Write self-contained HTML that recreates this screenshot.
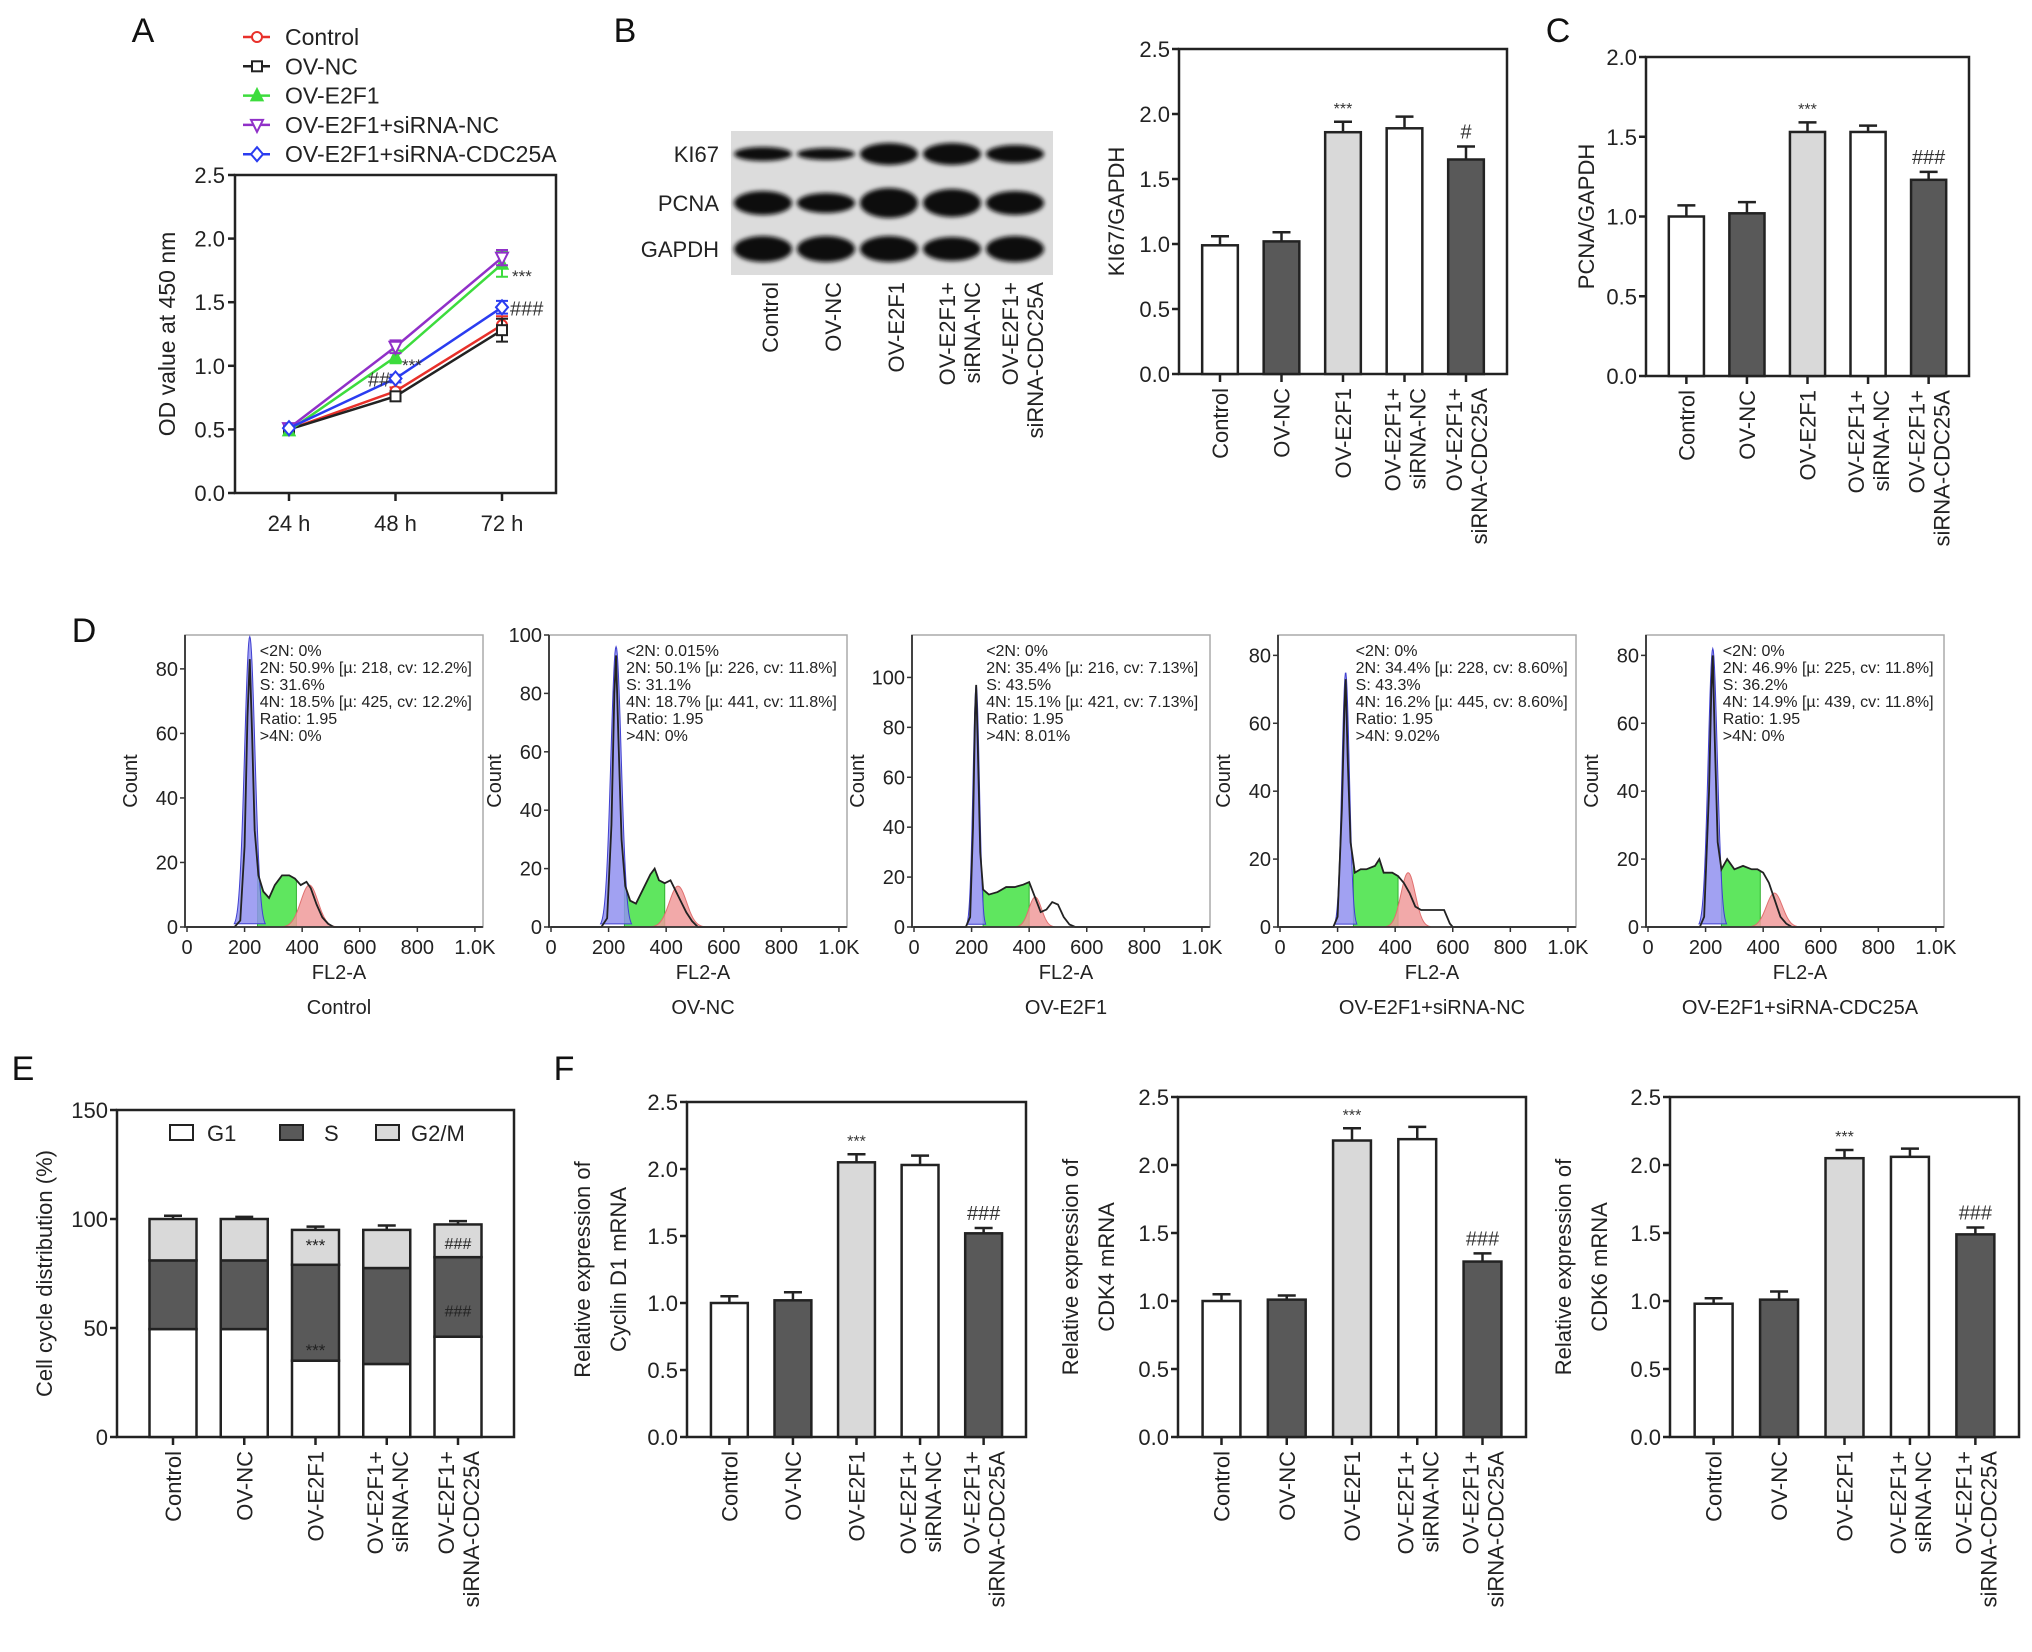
<!DOCTYPE html>
<html><head><meta charset="utf-8"><title>E2F1 / CDC25A figure</title>
<style>
html,body{margin:0;padding:0;background:#fff;}
svg{display:block;font-family:"Liberation Sans",Arial,sans-serif;}
</style></head>
<body>
<svg id="fig" xmlns="http://www.w3.org/2000/svg" width="2032" height="1652" viewBox="0 0 2032 1652">
<defs><filter id="blur" x="-20%" y="-50%" width="140%" height="200%"><feGaussianBlur stdDeviation="2.2"/></filter></defs>
<rect x="0" y="0" width="2032" height="1652" fill="#fff"/>
</svg>
<script>
// ---------- data ----------
const timeLabels = ['24 h','48 h','72 h'];
const seriesNames = ['Control','OV-NC','OV-E2F1','OV-E2F1+siRNA-NC','OV-E2F1+siRNA-CDC25A'];
const odControl = [0.50,0.80,1.32];
const odNC = [0.50,0.76,1.28];
const odE2F1 = [0.49,1.07,1.80];
const odSiNC = [0.51,1.15,1.85];
const odCDC = [0.51,0.90,1.46];
const odErr72 = [0.07,0.09,0.10,0.06,0.05];
const odErr48 = [0.03,0.03,0.05,0.05,0.03];
const aTicks = [0,0.5,1.0,1.5,2.0,2.5];

const cats = [["Control"],["OV-NC"],["OV-E2F1"],["OV-E2F1+","siRNA-NC"],["OV-E2F1+","siRNA-CDC25A"]];
const ki67Vals = [0.99,1.02,1.86,1.89,1.65];
const ki67Err = [0.07,0.07,0.08,0.09,0.10];
const ki67Marks = ['','','***','','#'];
const pcnaVals = [1.00,1.02,1.53,1.53,1.23];
const pcnaErr = [0.07,0.07,0.06,0.04,0.05];
const pcnaMarks = ['','','***','','###'];
const ccnd1Vals = [1.00,1.02,2.05,2.03,1.52];
const ccnd1Err = [0.05,0.06,0.06,0.07,0.04];
const cdk4Vals = [1.00,1.01,2.18,2.19,1.29];
const cdk4Err = [0.05,0.03,0.09,0.09,0.06];
const cdk6Vals = [0.98,1.01,2.05,2.06,1.49];
const cdk6Err = [0.04,0.06,0.06,0.06,0.05];
const fMarks = ['','','***','','###'];
const ticks25 = [0,0.5,1.0,1.5,2.0,2.5];
const ticks20 = [0,0.5,1.0,1.5,2.0];

const g1Vals = [49.5,49.5,35,33.5,46];
const sVals = [31.5,31.5,44,44,36.5];
const g2mVals = [19,19,16,17.5,15];
const g1Err = [2.5,1.5,1,2.5,2.5];
const sErr = [2.5,1.5,1.5,1.5,1];
const g2Err = [1.5,1,1.5,2,1.5];
const eTicks = [0,50,100,150];

const blotRows = ['KI67','PCNA','GAPDH'];
const ki67Band = [7,6,11,11,9];
const pcnaBand = [12,10,15,14,12];
const gapdhBand = [13,13,13,12,13];

const dTitles = ['Control','OV-NC','OV-E2F1','OV-E2F1+siRNA-NC','OV-E2F1+siRNA-CDC25A'];
const dYmax = [90.5,100,117,86,86];
const dYTicks = [[0,20,40,60,80],[0,20,40,60,80,100],[0,20,40,60,80,100],[0,20,40,60,80],[0,20,40,60,80]];
const dXTicks = [0,200,400,600,800,1000];
const dXLabels = ['0','200','400','600','800','1.0K'];
const dStats = [
 ['<2N: 0%','2N: 50.9% [µ: 218, cv: 12.2%]','S: 31.6%','4N: 18.5% [µ: 425, cv: 12.2%]','Ratio: 1.95','>4N: 0%'],
 ['<2N: 0.015%','2N: 50.1% [µ: 226, cv: 11.8%]','S: 31.1%','4N: 18.7% [µ: 441, cv: 11.8%]','Ratio: 1.95','>4N: 0%'],
 ['<2N: 0%','2N: 35.4% [µ: 216, cv: 7.13%]','S: 43.5%','4N: 15.1% [µ: 421, cv: 7.13%]','Ratio: 1.95','>4N: 8.01%'],
 ['<2N: 0%','2N: 34.4% [µ: 228, cv: 8.60%]','S: 43.3%','4N: 16.2% [µ: 445, cv: 8.60%]','Ratio: 1.95','>4N: 9.02%'],
 ['<2N: 0%','2N: 46.9% [µ: 225, cv: 11.8%]','S: 36.2%','4N: 14.9% [µ: 439, cv: 11.8%]','Ratio: 1.95','>4N: 0%']];
const hist1 = [[0,0],[165,0],[185,2],[200,25],[210,65],[218,83],[226,60],[235,30],[248,16],[265,11],[285,9],[305,13],[330,16],[355,16],[375,15],[395,13],[415,14],[430,12],[450,7],[470,3],[490,1],[510,0],[1024,0]];
const hist2 = [[0,0],[175,0],[195,3],[210,35],[220,80],[226,93],[234,65],[245,30],[258,14],[275,9],[295,8],[320,13],[345,18],[360,20],[375,16],[395,15],[415,16],[430,13],[450,9],[470,5],[490,2],[510,0],[1024,0]];
const hist3 = [[0,0],[180,0],[195,4],[205,40],[212,85],[216,97],[222,70],[230,30],[240,15],[260,13],[290,14],[320,16],[350,16],[380,17],[400,18],[420,12],[440,6],[460,7],[480,10],[500,9],[520,4],[540,1],[560,0],[1024,0]];
const hist4 = [[0,0],[185,0],[200,3],[215,35],[224,65],[228,73],[235,50],[245,25],[260,16],[280,17],[300,17],[330,18],[345,20],[360,16],[390,16],[410,15],[430,13],[450,10],[470,6],[490,5],[520,5],[550,5],[570,5],[590,1],[600,0],[1024,0]];
const hist5 = [[0,0],[180,0],[195,3],[212,40],[220,70],[225,80],[232,55],[242,25],[255,17],[275,20],[300,17],[330,18],[360,17],[380,17],[400,16],[420,13],[440,8],[460,3],[480,1],[500,0],[1024,0]];
const dHists = [hist1,hist2,hist3,hist4,hist5];
const g1Mu = [218,226,216,228,225];
const g1Peak = [90,96,97,75,82];
const g1Sd = [18,18,11,13,16];
const g2Mu = [425,441,421,445,439];
const g2Peak = [13,14,12,16,10];
const g2Sd = [30,30,22,25,28];
const sRange = [[245,380],[255,395],[240,400],[255,410],[255,390]];

// ---------- helpers ----------
const NS='http://www.w3.org/2000/svg';
const svg=document.getElementById('fig');
function mk(tag,attrs,parent){const e=document.createElementNS(NS,tag);for(const k in attrs)e.setAttribute(k,attrs[k]);(parent||svg).appendChild(e);return e;}
function tx(str,attrs,parent){const e=mk('text',attrs,parent);e.textContent=str;return e;}
function grp(name){const g=mk('g',{});return g;}

// panel letters
[['A',143,42],['B',625,42],['C',1558,42],['D',84,642],['E',23,1080],['F',564,1080]].forEach(p=>{
  const t=tx(p[0],{x:p[1],y:p[2],'font-size':34,'text-anchor':'middle',fill:'#111'});
  
  
});

// ---------- Panel A ----------
(function(){
  const g=grp('panel-a-line-chart');
  const L=235,R=556,T=175,B=493;
  const y=v=>B-v/2.5*(B-T);
  const x=i=>289+i*106.5;
  const fr=mk('rect',{x:L,y:T,width:R-L,height:B-T,fill:'none',stroke:'#222','stroke-width':2.5},g);
  
  
  aTicks.forEach(v=>{
    const tk=mk('line',{x1:L-7,x2:L,y1:y(v),y2:y(v),stroke:'#222','stroke-width':2.5},g);
    
    
    const t=tx(v.toFixed(1),{x:L-10,y:y(v)+8,'font-size':22,'text-anchor':'end',fill:'#222'},g);
    
    
  });
  timeLabels.forEach((s,i)=>{
    const tk=mk('line',{x1:x(i),x2:x(i),y1:B,y2:B+8,stroke:'#222','stroke-width':2.5},g);
    
    
    const t=tx(s,{x:x(i),y:B+38,'font-size':22,'text-anchor':'middle',fill:'#222'},g);
    
    
  });
  const yt=tx('OD value at 450 nm',{x:0,y:0,'font-size':23,'text-anchor':'middle',fill:'#222',transform:'translate(175,334) rotate(-90)'},g);
  
  
  const series=[odControl,odNC,odE2F1,odSiNC,odCDC];
  const cols=['#e8302a','#222222','#3ddc3d','#9030c8','#2a3cf0'];
  const shapes=['circle','square','tri','itri','diamond'];
  function marker(shape,cx,cy,col,par){
    let e;
    if(shape==='circle') e=mk('circle',{cx:cx,cy:cy,r:5,fill:'#fff',stroke:col,'stroke-width':2},par);
    else if(shape==='square') e=mk('rect',{x:cx-5,y:cy-5,width:10,height:10,fill:'#fff',stroke:col,'stroke-width':2},par);
    else if(shape==='tri') e=mk('polygon',{points:`${cx},${cy-7} ${cx-6},${cy+5} ${cx+6},${cy+5}`,fill:col,stroke:col,'stroke-width':1.5},par);
    else if(shape==='itri') e=mk('polygon',{points:`${cx},${cy+7} ${cx-6},${cy-5} ${cx+6},${cy-5}`,fill:'#fff',stroke:col,'stroke-width':2},par);
    else e=mk('polygon',{points:`${cx},${cy-7} ${cx+6},${cy} ${cx},${cy+7} ${cx-6},${cy}`,fill:'#fff',stroke:col,'stroke-width':2},par);
    return e;
  }
  series.forEach((s,k)=>{
    const sg=mk('g',{},g);
    
    
    const ln=mk('polyline',{points:s.map((v,i)=>x(i)+','+y(v)).join(' '),fill:'none',stroke:cols[k],'stroke-width':2.5},sg);
    
    
    [[1,odErr48[k]],[2,odErr72[k]]].forEach(([i,e])=>{
      const eb=mk('path',{d:`M${x(i)},${y(s[i]-e)}V${y(s[i]+e)}M${x(i)-6},${y(s[i]-e)}h12M${x(i)-6},${y(s[i]+e)}h12`,stroke:cols[k],'stroke-width':2,fill:'none'},sg);
      
      
    });
    s.forEach((v,i)=>{
      const m=marker(shapes[k],x(i),y(v),cols[k],sg);
      
      
    });
    const ly=37+k*29.3;
    const ll=mk('line',{x1:243,x2:270,y1:ly,y2:ly,stroke:cols[k],'stroke-width':2.5},g);
    
    
    const lm=marker(shapes[k],257,ly,cols[k],g);
    
    
    const lt=tx(seriesNames[k],{x:285,y:ly+8,'font-size':23,fill:'#222'},g);
    
    
  });
  [['***',512,y(1.70)+5],['###',510,y(1.46)+8],['***',402,y(1.0)+5],['##',368,y(0.9)+8]].forEach(a=>{
    const t=tx(a[0],{x:a[1],y:a[2],'font-size':a[0][0]==='*'?17:20,fill:'#333'},g);
    
    
  });
})();

// ---------- Western blot ----------
(function(){
  const g=grp('western-blot');
  const bg=mk('rect',{x:731,y:131,width:322,height:144,fill:'#dcdcdc'},g);
  
  
  const rowsY=[154,203,249];
  const bands=[ki67Band,pcnaBand,gapdhBand];
  blotRows.forEach((r,ri)=>{
    const t=tx(r,{x:719,y:rowsY[ri]+8,'font-size':22,'text-anchor':'end',fill:'#222'},g);
    
    
    bands[ri].forEach((h,i)=>{
      const cx=763+i*63;
      const b=mk('ellipse',{cx:cx,cy:rowsY[ri],rx:29,ry:h,fill:'#111',filter:'url(#blur)'},g);
      
      
    });
  });
  cats.forEach((c,i)=>{
    const cx=770+i*63;
    c.forEach((line,j)=>{
      const bx=cx+(c.length===1?8:(j===0?-4:21));
      const t=tx(line,{x:0,y:0,'font-size':22,'text-anchor':'end',fill:'#222',transform:`translate(${bx},282) rotate(-90)`},g);
      
      
    });
  });
})();

// ---------- generic bar chart ----------
function barChart(name,L,R,T,B,ymax,ticks,vals,errs,marks,titleLines,titleX,fills){
  const g=grp(name);
  const y=v=>B-v/ymax*(B-T);
  const pad=(R-L)*0.125, step=(R-L-2*pad)/4;
  const x=i=>L+pad+i*step;
  const bw=step*0.58;
  const fr=mk('rect',{x:L,y:T,width:R-L,height:B-T,fill:'none',stroke:'#222','stroke-width':2.5},g);
  
  
  ticks.forEach(v=>{
    const tk=mk('line',{x1:L-7,x2:L,y1:y(v),y2:y(v),stroke:'#222','stroke-width':2.5},g);
    
    
    const t=tx(v.toFixed(1),{x:L-9,y:y(v)+8,'font-size':22,'text-anchor':'end',fill:'#222'},g);
    
    
  });
  vals.forEach((v,i)=>{
    const e=errs[i];
    const eb=mk('path',{d:`M${x(i)},${y(v)}V${y(v+e)}M${x(i)-9},${y(v+e)}h18`,stroke:'#222','stroke-width':2.5,fill:'none'},g);
    
    
    const r=mk('rect',{x:x(i)-bw/2,y:y(v),width:bw,height:B-y(v),fill:fills[i],stroke:'#222','stroke-width':2.5},g);
    
    
    const tk=mk('line',{x1:x(i),x2:x(i),y1:B,y2:B+8,stroke:'#222','stroke-width':2.5},g);
    
    
    cats[i].forEach((line,j)=>{
      const bx=x(i)+(cats[i].length===1?8:(j===0?-4:21));
      const t=tx(line,{x:0,y:0,'font-size':22,'text-anchor':'end',fill:'#222',transform:`translate(${bx},${B+14}) rotate(-90)`},g);
      
      
    });
    if(marks[i]){
      const t=tx(marks[i],{x:x(i),y:y(v+e)-8,'font-size':marks[i][0]==='*'?16:20,'text-anchor':'middle',fill:'#333'},g);
      
      
    }
  });
  const cy=(T+B)/2;
  titleLines.forEach((line,j)=>{
    const t=tx(line,{x:0,y:0,'font-size':22,'text-anchor':'middle',fill:'#222',transform:`translate(${titleX+j*36},${cy}) rotate(-90)`},g);
    
    
  });
}
const fillsMain=['#ffffff','#595959','#d9d9d9','#ffffff','#595959'];
barChart('panel-b-ki67-chart',1179,1507,49,374,2.5,ticks25,ki67Vals,ki67Err,ki67Marks,['KI67/GAPDH'],1124,fillsMain);
barChart('panel-c-pcna-chart',1646,1969,57,376,2.0,ticks20,pcnaVals,pcnaErr,pcnaMarks,['PCNA/GAPDH'],1594,fillsMain);
barChart('panel-f-cyclin-d1-chart',687,1026,1102,1437,2.5,ticks25,ccnd1Vals,ccnd1Err,fMarks,['Relative expression of','Cyclin D1 mRNA'],590,fillsMain);
barChart('panel-f-cdk4-chart',1178,1526,1097,1437,2.5,ticks25,cdk4Vals,cdk4Err,fMarks,['Relative expression of','CDK4 mRNA'],1078,fillsMain);
barChart('panel-f-cdk6-chart',1670,2019,1097,1437,2.5,ticks25,cdk6Vals,cdk6Err,fMarks,['Relative expression of','CDK6 mRNA'],1571,fillsMain);

// ---------- Panel E stacked ----------
(function(){
  const g=grp('panel-e-stacked-chart');
  const L=117,R=514,T=1110,B=1437;
  const y=v=>B-v/150*(B-T);
  const pad=56, step=(R-L-2*pad)/4;
  const x=i=>L+pad+i*step;
  const bw=47;
  const fr=mk('rect',{x:L,y:T,width:R-L,height:B-T,fill:'none',stroke:'#222','stroke-width':2.5},g);
  
  
  eTicks.forEach(v=>{
    const tk=mk('line',{x1:L-7,x2:L,y1:y(v),y2:y(v),stroke:'#222','stroke-width':2.5},g);
    
    
    const t=tx(String(v),{x:L-9,y:y(v)+8,'font-size':22,'text-anchor':'end',fill:'#222'},g);
    
    
  });
  const segFill=['#ffffff','#595959','#d9d9d9'];
  const segName=['g1','s','g2m'];
  g1Vals.forEach((g1,i)=>{
    const parts=[g1,sVals[i],g2mVals[i]];
    const es=[g1Err[i],sErr[i],g2Err[i]];
    let base=0;
    parts.forEach((p,k)=>{
      const top=base+p;
      const r=mk('rect',{x:x(i)-bw/2,y:y(top),width:bw,height:y(base)-y(top),fill:segFill[k],stroke:'#222','stroke-width':2.5},g);
      
      
      const eb=mk('path',{d:`M${x(i)},${y(top)}V${y(top+es[k])}M${x(i)-9},${y(top+es[k])}h18`,stroke:'#222','stroke-width':2.5,fill:'none'},g);
      
      
      base=top;
    });
    const tk=mk('line',{x1:x(i),x2:x(i),y1:B,y2:B+8,stroke:'#222','stroke-width':2.5},g);
    
    
    cats[i].forEach((line,j)=>{
      const bx=x(i)+(cats[i].length===1?8:(j===0?-4:21));
      const t=tx(line,{x:0,y:0,'font-size':22,'text-anchor':'end',fill:'#222',transform:`translate(${bx},${B+14}) rotate(-90)`},g);
      
      
    });
  });
  [['***',2,88],['***',2,40],['###',4,89],['###',4,58]].forEach(a=>{
    const t=tx(a[0],{x:x(a[1]),y:y(a[2])+6,'font-size':a[0][0]==='*'?17:16,'text-anchor':'middle',fill:'#222'},g);
    
    
  });
  const leg=[['G1',170,207],['S',280,324],['G2/M',376,411]];
  leg.forEach((l,k)=>{
    const r=mk('rect',{x:l[1],y:1125,width:23,height:15,fill:segFill[k],stroke:'#222','stroke-width':2},g);
    
    
    const t=tx(l[0],{x:l[2],y:1141,'font-size':22,fill:'#222'},g);
    
    
  });
  const yt=tx('Cell cycle distribution (%)',{x:0,y:0,'font-size':22,'text-anchor':'middle',fill:'#222',transform:`translate(52,${(T+B)/2}) rotate(-90)`},g);
  
  
})();

// ---------- Panel D histograms ----------
(function(){
  const lefts=[185,549,912,1278,1646];
  dHists.forEach((h,i)=>{
    const g=grp('panel-d-histogram-'+(i+1));
    const L=lefts[i],W=298,T=635,B=927;
    const x=v=>L+2+v/1035*W;
    const y=v=>B-v/dYmax[i]*(B-T);
    const fr=mk('rect',{x:L,y:T,width:W,height:B-T,fill:'none',stroke:'#aaa','stroke-width':1.5},g);
    
    
    function interp(v){for(let k=1;k<h.length;k++){if(v<=h[k][0]){const a=h[k-1],b=h[k];return a[1]+(b[1]-a[1])*(v-a[0])/(b[0]-a[0]);}}return 0;}
    let pts=[];
    for(let v=sRange[i][0];v<=sRange[i][1];v+=5)pts.push(x(v)+','+y(interp(v)));
    pts.push(x(sRange[i][1])+','+y(0));pts.push(x(sRange[i][0])+','+y(0));
    const gs=mk('polygon',{points:pts.join(' '),fill:'#5fe65f',stroke:'#30b030','stroke-width':1},g);
    
    
    pts=[];
    for(let v=g2Mu[i]-3.2*g2Sd[i];v<=g2Mu[i]+3.2*g2Sd[i];v+=3)pts.push(x(v)+','+y(g2Peak[i]*Math.exp(-0.5*((v-g2Mu[i])/g2Sd[i])**2)));
    const rs=mk('polygon',{points:pts.join(' '),fill:'#f09a9a','fill-opacity':0.85,stroke:'#e07070','stroke-width':1},g);
    
    
    pts=[];
    for(let v=g1Mu[i]-3*g1Sd[i];v<=g1Mu[i]+3*g1Sd[i];v+=2)pts.push(x(v)+','+y(g1Peak[i]*Math.exp(-0.5*((v-g1Mu[i])/g1Sd[i])**2)));
    const bs=mk('polygon',{points:pts.join(' '),fill:'#9090f0','fill-opacity':0.85,stroke:'#4040d0','stroke-width':1},g);
    
    
    const ln=mk('polyline',{points:h.map(p=>x(p[0])+','+y(p[1])).join(' '),fill:'none',stroke:'#222','stroke-width':1.8},g);
    
    
    const ax=mk('path',{d:`M${L},${T}V${B}H${L+W}`,stroke:'#333','stroke-width':1.8,fill:'none'},g);
    
    
    dYTicks[i].forEach(v=>{
      const tk=mk('line',{x1:L-5,x2:L,y1:y(v),y2:y(v),stroke:'#333','stroke-width':1.5},g);
      
      
      const t=tx(String(v),{x:L-7,y:y(v)+7,'font-size':20,'text-anchor':'end',fill:'#222'},g);
      
      
    });
    dXTicks.forEach((v,k)=>{
      const tk=mk('line',{x1:x(v),x2:x(v),y1:B,y2:B+5,stroke:'#333','stroke-width':1.5},g);
      
      
      const t=tx(dXLabels[k],{x:x(v),y:B+27,'font-size':20,'text-anchor':'middle',fill:'#222'},g);
      
      
    });
    const xt=tx('FL2-A',{x:L+W/2+5,y:B+52,'font-size':20,'text-anchor':'middle',fill:'#222'},g);
    
    
    const yt=tx('Count',{x:0,y:0,'font-size':20,'text-anchor':'middle',fill:'#222',transform:`translate(${L-48},${(T+B)/2}) rotate(-90)`},g);
    
    
    const ti=tx(dTitles[i],{x:L+W/2+5,y:B+87,'font-size':20,'text-anchor':'middle',fill:'#222'},g);
    
    
    dStats[i].forEach((s,k)=>{
      const t=tx(s,{x:x(g1Mu[i])+10,y:T+21+k*17,'font-size':16,fill:'#222'},g);
      
      
    });
  });
})();
</script>
</body></html>
